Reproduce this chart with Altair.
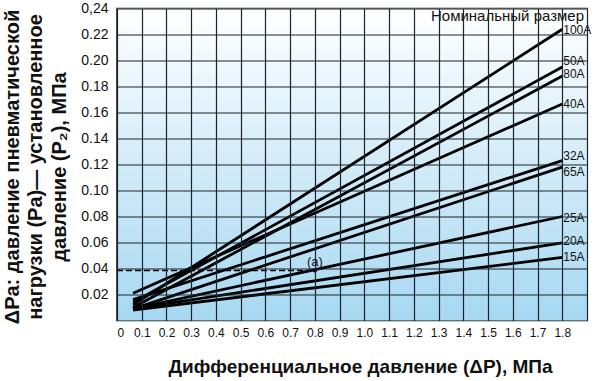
import altair as alt
import pandas as pd

# ---- data ----
sizes = ["100A", "50A", "80A", "40A", "32A", "65A", "25A", "20A", "15A"]
x_start = 0.065
x_end = 1.8
start_vals = [0.012, 0.014, 0.010, 0.021, 0.016, 0.009, 0.009, 0.009, 0.008]
end_vals = [0.224, 0.195, 0.188, 0.1665, 0.123, 0.118, 0.080, 0.0597, 0.0485]
label_vals = [0.2231, 0.2, 0.1898, 0.1665, 0.1265, 0.1144, 0.0788, 0.0613, 0.049]

x_ticks = [0, 0.1, 0.2, 0.3, 0.4, 0.5, 0.6, 0.7, 0.8, 0.9, 1.0, 1.1, 1.2, 1.3, 1.4, 1.5, 1.6, 1.7, 1.8]
x_grid = x_ticks + [1.9]
y_ticks = [0.02, 0.04, 0.06, 0.08, 0.10, 0.12, 0.14, 0.16, 0.18, 0.20, 0.22, 0.24]
x_domain = [0, 1.9]
y_domain = [0, 0.24]

point_a_x = [0.8]
point_a_y = [0.0385]
dash_x = [0, 0.8]
a_label = "(a)"
a_label_y = [0.045]
legend_title = "Номинальный размер"
legend_pos = [1.888, 0.2343]

x_title = "Дифференциальное давление (ΔP), МПа"
y_title = ["ΔPa: давление пневматической", "нагрузки (Pa)— установленное", "давление (P₂), МПа"]

FONT = "Liberation Sans"

# ---- tables ----
rows = []
for s, a, b in zip(sizes, start_vals, end_vals):
    rows.append({"size": s, "x": x_start, "y": a})
    rows.append({"size": s, "x": x_end, "y": b})
lines_df = pd.DataFrame(rows)
labels_df = pd.DataFrame({"size": sizes, "x": [x_end] * len(sizes), "y": label_vals})
bg_df = pd.DataFrame({"x": [x_domain[0]], "x2": [x_domain[1]], "y": [y_domain[0]], "y2": [y_domain[1]]})
dash_df = pd.DataFrame({"x": dash_x, "y": point_a_y * 2})
pt_df = pd.DataFrame({"x": point_a_x, "y": point_a_y})
alab_df = pd.DataFrame({"x": point_a_x, "y": a_label_y, "t": [a_label]})
leg_df = pd.DataFrame({"x": [legend_pos[0]], "y": [legend_pos[1]], "t": [legend_title]})

xs = alt.Scale(domain=x_domain, nice=False, zero=False)
ys = alt.Scale(domain=y_domain, nice=False, zero=False)

x_axis = alt.Axis(
    values=x_grid, title=x_title, grid=True, ticks=False, domain=False, labelOverlap=False,
    labelExpr="datum.value > 1.85 ? '' : (datum.value == 0 ? '0' : format(datum.value, '.1f'))",
    labelFont=FONT, labelFontSize=12, labelColor="#111", labelPadding=7,
    titleFont=FONT, titleFontSize=19, titleFontWeight="bold", titleColor="#111",
    titleX=243, titleY=52, titleAnchor="middle", titleAlign="center", titleBaseline="alphabetic",
    gridColor="#1d2429", gridOpacity=1, gridWidth=1.2,
    zindex=1,
)
y_axis = alt.Axis(
    values=y_ticks, title=y_title, grid=True, ticks=False, domain=False, labelOverlap=False,
    labelExpr="abs(datum.value - 0.24) < 0.0001 ? '0,24' : format(datum.value, '.2f')",
    labelFont=FONT, labelFontSize=14, labelColor="#111", labelPadding=9,
    titleFont=FONT, titleFontSize=20, titleFontWeight="bold", titleColor="#111",
    titleLineHeight=23.5, titleAngle=270, titleX=-99, titleY=158,
    titleAlign="center", titleBaseline="alphabetic", titleAnchor="middle",
    gridColor="#1d2429", gridOpacity=1, gridWidth=1.2,
    zindex=1,
)

X = alt.X("x:Q", scale=xs, axis=x_axis)
Y = alt.Y("y:Q", scale=ys, axis=y_axis)

grad = alt.LinearGradient(
    gradient="linear",
    stops=[alt.GradientStop(color="#ffffff", offset=0), alt.GradientStop(color="#a6d8f2", offset=1)],
    x1=0, x2=0, y1=0, y2=1,
)

bg = alt.Chart(bg_df).mark_rect(fill=grad).encode(x=X, x2="x2", y=Y, y2="y2")

lines = alt.Chart(lines_df).mark_line(color="#000", strokeWidth=2.8).encode(x=X, y=Y, detail="size:N")

labels = alt.Chart(labels_df).mark_text(
    align="left", baseline="middle", dx=1, font=FONT, fontSize=12, color="#111"
).encode(x=X, y=Y, text="size:N")

dash = alt.Chart(dash_df).mark_line(color="#000", strokeWidth=1.5, strokeDash=[6, 3]).encode(x=X, y=Y)

pt = alt.Chart(pt_df).mark_point(filled=True, color="#000", size=18, opacity=1).encode(x=X, y=Y)

alab = alt.Chart(alab_df).mark_text(
    align="center", baseline="middle", font=FONT, fontSize=13, color="#111"
).encode(x=X, y=Y, text="t:N")

leg = alt.Chart(leg_df).mark_text(
    align="right", baseline="middle", font=FONT, fontSize=15, color="#111"
).encode(x=X, y=Y, text="t:N")

chart = alt.layer(bg, lines, dash, pt, alab, labels, leg).properties(
    width=470, height=312,
    autosize=alt.AutoSizeParams(type="none"),
    padding={"left": 117, "top": 8.5, "right": 13, "bottom": 60},
    background="white",
).configure_view(
    stroke="#111", strokeWidth=1.5
)

chart.save("out.html", embed_options={"renderer": "svg", "actions": False})
